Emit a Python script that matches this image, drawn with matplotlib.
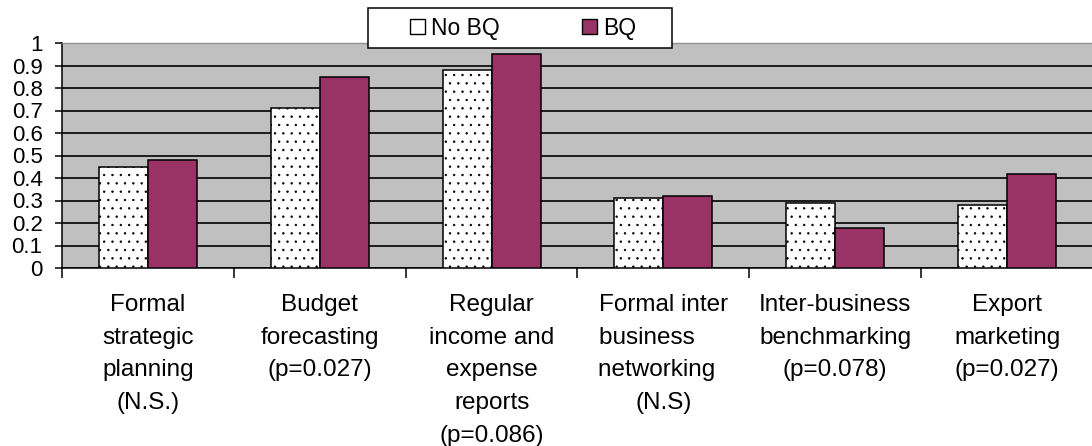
import matplotlib
matplotlib.use("Agg")
import matplotlib.pyplot as plt
import numpy as np
from matplotlib.patches import Patch, Rectangle
from matplotlib.ticker import FormatStrFormatter, MultipleLocator

categories = [
    "Formal\nstrategic\nplanning\n(N.S.)",
    "Budget\nforecasting\n(p=0.027)",
    "Regular\nincome and\nexpense\nreports\n(p=0.086)",
    "Formal inter\nbusiness     \nnetworking  \n(N.S)",
    "Inter-business\nbenchmarking\n(p=0.078)",
    "Export\nmarketing\n(p=0.027)",
]
no_bq = [0.45, 0.71, 0.88, 0.31, 0.29, 0.28]
bq = [0.48, 0.85, 0.95, 0.32, 0.18, 0.42]
series_names = ["No BQ", "BQ"]

plt.rcParams['font.family'] = ['Liberation Sans', 'DejaVu Sans']
plt.rcParams['hatch.color'] = '#333333'
plt.rcParams['hatch.linewidth'] = 0.5

W, H = 1092, 446
fig = plt.figure(figsize=(W / 100, H / 100), dpi=100)
ax = fig.add_axes([62 / W, 1 - 268 / H, 1031 / W, 225 / H])
ax.set_facecolor('#C0C0C0')

x = np.arange(len(categories))
bw = 0.285
ax.bar(x - bw / 2, no_bq, bw, color='white', edgecolor='black', linewidth=1.1,
       hatch='..', zorder=3)
ax.bar(x + bw / 2, bq, bw, color='#993366', edgecolor='black', linewidth=1.1,
       zorder=3)

ax.set_xlim(-0.5, len(categories) - 0.5)
ax.set_ylim(0, 1)
ax.yaxis.set_major_locator(MultipleLocator(0.1))
ax.yaxis.set_major_formatter(FormatStrFormatter('%g'))
ax.grid(axis='y', color='black', linewidth=1.2, zorder=1)
ax.set_axisbelow(True)

ax.set_xticks(x)
ax.set_xticklabels(categories, fontsize=17.5, linespacing=1.62)
ax.set_xticks(np.arange(len(categories) + 1) - 0.5, minor=True)
ax.tick_params(axis='x', which='major', length=0, pad=19)
ax.tick_params(axis='x', which='minor', length=7, width=1.1, color='black')
ax.tick_params(axis='y', length=5, width=1.1, labelsize=16, pad=9)

for s in ['left', 'bottom']:
    ax.spines[s].set_color('black')
    ax.spines[s].set_linewidth(1.1)
ax.spines['top'].set_color('#909090')
ax.spines['top'].set_linewidth(1.0)
ax.spines['right'].set_visible(False)

# legend box
box = Rectangle((368 / W, 1 - 48 / H), 304 / W, 40 / H, transform=fig.transFigure,
                facecolor='white', edgecolor='black', linewidth=1.1, zorder=5)
fig.patches.append(box)
handles = [Patch(facecolor='white', edgecolor='black', linewidth=1.0),
           Patch(facecolor='#993366', edgecolor='black', linewidth=1.0)]
leg = fig.legend(handles, series_names, ncol=2, loc='center',
                 bbox_to_anchor=(523 / W, 1 - 28 / H), frameon=False,
                 fontsize=16.5, handlelength=0.65, handleheight=0.65,
                 handletextpad=0.25, columnspacing=3.6)
leg.set_zorder(6)

fig.savefig('out.png', dpi=100)
